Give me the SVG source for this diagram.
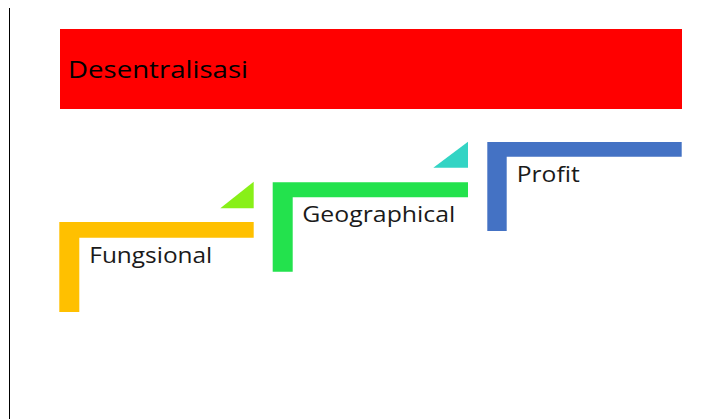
<svg xmlns="http://www.w3.org/2000/svg" width="722" height="419" viewBox="0 0 722 419">
<style>
.lbl{font-family:"Open Sans","Liberation Sans",sans-serif;font-size:21px;fill:#1a1a1a;}
.title{font-family:"Open Sans","Liberation Sans",sans-serif;font-size:23px;fill:#000;}
</style>
<rect width="722" height="419" fill="#fff"/>
<line x1="9.5" y1="8" x2="9.5" y2="419" stroke="#000" stroke-width="1"/>
<g id="desentralisasi">
<rect x="60" y="29" width="622" height="80" fill="#ff0000"/>
<text class="title" x="68" y="78" textLength="180" lengthAdjust="spacingAndGlyphs">Desentralisasi</text>
</g>
<g id="connectors">
<polygon points="220.3,208.3 253.7,208.3 253.7,181.7" fill="#88f018"/>
<polygon points="433.3,167.7 468,167.7 468,141.7" fill="#33d4c4"/>
</g>
<g id="fungsional">
<polygon points="59.3,222 253.7,222 253.7,237.7 79.3,237.7 79.3,312 59.3,312" fill="#ffc000"/>
<text class="lbl" x="89.3" y="262.5" textLength="123" lengthAdjust="spacingAndGlyphs">Fungsional</text>
</g>
<g id="geographical">
<polygon points="272.7,182.3 468,182.3 468,197.3 292.7,197.3 292.7,271.7 272.7,271.7" fill="#23e24d"/>
<text class="lbl" x="302.3" y="222.3" textLength="153" lengthAdjust="spacingAndGlyphs">Geographical</text>
</g>
<g id="profit">
<polygon points="487.3,142 681.7,142 681.7,156.7 506.7,156.7 506.7,231 487.3,231" fill="#4472c4"/>
<text class="lbl" x="516.7" y="182.3" textLength="63" lengthAdjust="spacingAndGlyphs">Profit</text>
</g>
</svg>
